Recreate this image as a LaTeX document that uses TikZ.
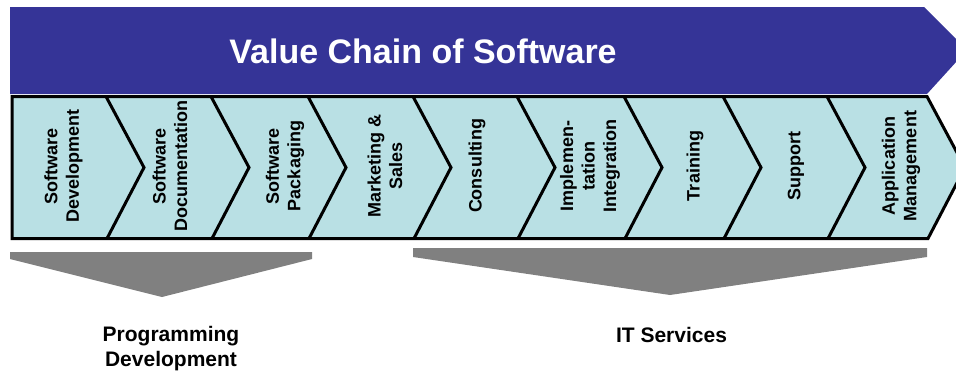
\documentclass[tikz,border=0pt]{standalone}
\usepackage{fontspec}
\setmainfont{Liberation Sans}
\definecolor{banner}{RGB}{53,52,151}
\definecolor{chev}{RGB}{185,224,228}
\definecolor{grayarrow}{RGB}{128,128,128}
\begin{document}
\begin{tikzpicture}[x=1pt,y=-1pt,
  lbl/.style={rotate=90, align=center, font=\bfseries\fontsize{18}{21.6}\selectfont, inner sep=0pt},
  grp/.style={align=center, font=\bfseries\fontsize{21}{25}\selectfont, inner sep=0pt},
  divider/.style={line width=3pt, line join=miter},
  band/.style={fill=chev, draw=black, line width=3pt, line join=miter},
  pointer/.style={fill=grayarrow}]
\useasboundingbox (0,0) rectangle (956,373);
% banner
\fill[banner] (10,7) -- (924,7) -- (967,50) -- (927,94) -- (10,94) -- cycle;
\node[font=\bfseries\fontsize{34}{40}\selectfont, text=white, anchor=base, inner sep=0pt] (title) at (423,63) {Value Chain of Software};
% chevron band
\path[band] (12,96.5) -- (927,96.5) -- (965,167.5) -- (928,238.5) -- (12,238.5) -- cycle;
\foreach \x in {106,211,308,413,517,624,723,827}
  \draw[divider] (\x,96.5) -- (\x+38,167.5) -- (\x+1,238.5);
% step labels
\node[lbl] (s1) at (63.5,166) {Software\\Development};
\node[lbl] (s2) at (170,166) {Software\\Documentation};
\node[lbl] (s3) at (285,166) {Software\\Packaging};
\node[lbl] (s4) at (385,166) {Marketing \&\\Sales};
\node[lbl] (s5) at (477,166) {Consulting};
\node[lbl] (s6) at (590,166) {Implemen-\\tation\\Integration};
\node[lbl] (s7) at (695,166) {Training};
\node[lbl] (s8) at (796,166) {Support};
\node[lbl] (s9) at (901,166) {Application\\Management};
% group pointers
\fill[pointer] (10,252) -- (312,252) -- (312,259) -- (162,297) -- (10,259) -- cycle;
\fill[pointer] (413,248) -- (927,248) -- (927,257) -- (670,295) -- (413,257) -- cycle;
% group labels
\node[grp] (g1) at (171,349) {Programming\\Development};
\node[grp, anchor=base] (g2) at (671.5,342) {IT Services};
\end{tikzpicture}
\end{document}
